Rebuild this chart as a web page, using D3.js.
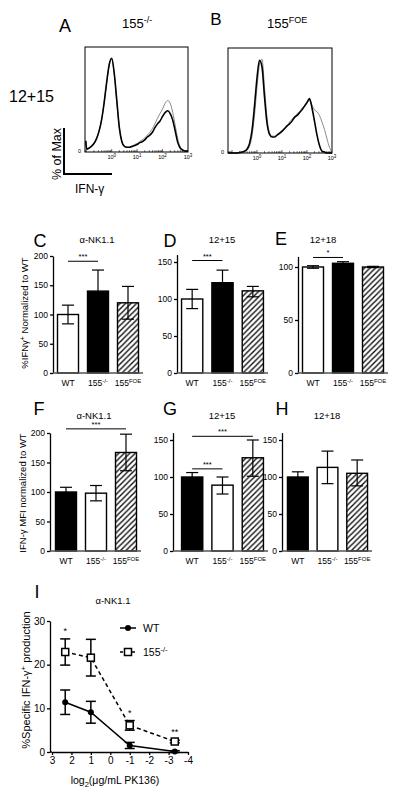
<!DOCTYPE html>
<html><head><meta charset="utf-8">
<script src="https://cdn.jsdelivr.net/npm/d3@7"></script>
<style>body{margin:0;background:#fff}svg{display:block;font-family:"Liberation Sans",Arial,sans-serif}</style>
</head><body><svg id="c" width="400" height="796"></svg>
<script>
// ---------------- DATA ----------------
const categories = ["WT", "155^-/-", "155^FOE"];
// C: %IFNg+ normalized, a-NK1.1
const cValues = [100, 140, 120], cLow = [84, 104, 92], cHigh = [116, 176, 148];
// D: 12+15
const dValues = [100, 122, 111], dLow = [87, 105, 103], dHigh = [113, 139, 117];
// E: 12+18
const eValues = [100, 103.5, 100], eLow = [98.8, 102, 99.4], eHigh = [101.2, 105, 100.6];
// F: MFI a-NK1.1
const fValues = [100, 98, 167], fLow = [92, 85, 136], fHigh = [108, 111, 198];
// G: MFI 12+15
const gValues = [100, 89, 126], gLow = [94, 77, 101], gHigh = [106, 100, 150];
// H: MFI 12+18
const hValues = [100, 113, 105], hLow = [94, 91, 88], hHigh = [107, 135, 123];
const ticks200 = [0, 50, 100, 150, 200];
const ticks150 = [0, 50, 100, 150];
const ticks100 = [0, 50, 100];

// I: dose response
const doseLog2 = [2.32, 1, -1, -3.32];
const wtMean = [11.4, 9.1, 1.5, 0.1], wtErr = [2.8, 2.5, 0.7, 0.2];
const koMean = [22.9, 21.6, 6.1, 2.4], koErr = [3.0, 4.2, 1.1, 0.3];
const doseStars = ["*", "", "*", "**"];
const iYTicks = [0, 10, 20, 30];
const iXTicks = [3, 2, 1, 0, -1, -2, -3, -4];

// A / B histograms: log10 IFN-g (x) vs % of max (y)
const histLogA = [-1.02,-0.98,-0.9,-0.8,-0.7,-0.6,-0.5,-0.4,-0.3,-0.2,-0.1,0.0,0.1,0.2,0.3,0.4,0.5,0.6,0.7,0.8,0.9,1.0,1.1,1.2,1.3,1.4,1.5,1.6,1.7,1.8,1.9,2.0,2.1,2.2,2.3,2.4,2.5,2.6,2.7,2.8,2.9,3.0];
const histA_black = [12,3,4,6,9,14,22,34,52,74,93,100,84,55,26,11,6,5,5,6,7,8,10,11,13,16,18,21,26,30,33,38,42,44,41,34,22,10,4,2,1,1];
const histA_gray  = [12,3,4,6,9,14,22,34,52,73,92,99,83,54,26,11,6,5,5,6,8,9,11,13,15,18,21,25,30,36,41,46,52,55,52,42,28,14,5,2,1,1];
const histLogB = [-1.15,-1.0,-0.9,-0.8,-0.7,-0.6,-0.5,-0.4,-0.3,-0.2,-0.1,0.0,0.1,0.2,0.3,0.4,0.5,0.6,0.7,0.8,0.9,1.0,1.1,1.2,1.3,1.4,1.5,1.6,1.7,1.8,1.9,2.0,2.1,2.2,2.3,2.4,2.5,2.6,2.7,2.8,2.9,3.0];
const histB_black = [0,0,0,0,0.5,1,2,4,10,24,50,80,99,92,60,32,20,17,17,19,21,23,26,29,31,34,38,40,43,46,50,54,58,48,34,19,8,2,1,0,0,0];
const histB_gray  = [0,0,0,0,0.5,1,1.5,3,7,18,40,70,94,100,70,38,22,18,18,19,22,24,26,28,33,36,38,42,44,48,50,53,56,51,46,44,40,33,25,15,6,1];
const histTicks = [0, 1, 2, 3];

// ---------------- DRAW ----------------
const svg = d3.select("#c");
const defs = svg.append("defs");
const pat = defs.append("pattern").attr("id", "hatch").attr("patternUnits", "userSpaceOnUse")
  .attr("width", 5.5).attr("height", 5.5);
pat.append("rect").attr("width", 5.5).attr("height", 5.5).attr("fill", "#fff");
pat.append("path").attr("d", "M0,5.5 L5.5,0 M-1,1 L1,-1 M4.5,6.5 L6.5,4.5").attr("stroke", "#111").attr("stroke-width", 1.4);

function supText(sel, label, size, supSize) {
  const parts = label.split("^");
  sel.append("tspan").text(parts[0]);
  if (parts[1]) sel.append("tspan").attr("font-size", supSize).attr("dy", -size * 0.38).text(parts[1]);
}
function txt(x, y, s, size, anchor = "start", weight = "normal") {
  return svg.append("text").attr("x", x).attr("y", y).attr("font-size", size)
    .attr("text-anchor", anchor).attr("font-weight", weight).text(s);
}

// ---- histograms
function histogram(p) {
  const x = d3.scaleLinear().domain(p.xDomain).range([p.x0, p.x1]);
  const y = d3.scaleLinear().domain([0, 112]).range([p.y1, p.y0]);
  const g = svg.append("g");
  const line = d3.line().x((d, i) => x(p.xs[i])).y(d => y(d)).curve(d3.curveMonotoneX);
  g.append("path").datum(p.gray).attr("d", line).attr("fill", "none").attr("stroke", "#8a8a8a").attr("stroke-width", 1);
  g.append("path").datum(p.black).attr("d", line).attr("fill", "none").attr("stroke", "#000").attr("stroke-width", 1.6);
  g.append("rect").attr("x", p.x0).attr("y", p.y0).attr("width", p.x1 - p.x0).attr("height", p.y1 - p.y0)
    .attr("fill", "none").attr("stroke", "#000").attr("stroke-width", 1);
  const minors = [];
  for (let dec = -2; dec <= 2; dec++) for (let m = 1; m <= 9; m++) {
    const v = dec + Math.log10(m);
    if (v >= p.xDomain[0] && v <= p.xDomain[1]) minors.push({ v, major: m === 1 });
  }
  g.selectAll("line.mt").data(minors).join("line")
    .attr("x1", d => x(d.v)).attr("x2", d => x(d.v))
    .attr("y1", p.y1).attr("y2", d => p.y1 - (d.major ? 3 : 1.8))
    .attr("stroke", "#000").attr("stroke-width", 0.6);
  histTicks.forEach(t => {
    const tt = g.append("text").attr("x", x(t)).attr("y", p.y1 + 7).attr("font-size", 5.5).attr("text-anchor", "middle");
    supText(tt, "10^" + t, 5.5, 4.5);
  });
  g.append("text").attr("x", p.x0 - 4).attr("y", p.y1 + 1).attr("font-size", 5.5).attr("text-anchor", "end").text("0");
}
histogram({ xs: histLogA, black: histA_black, gray: histA_gray, xDomain: [-1.05, 3.0], x0: 85, x1: 188, y0: 47, y1: 152 });
histogram({ xs: histLogB, black: histB_black, gray: histB_gray, xDomain: [-1.16, 3.0], x0: 228, x1: 332, y0: 48, y1: 153 });

txt(65, 32, "A", 18, "middle");
supText(txt(122, 28, "", 13), "155^-/-", 13, 9);
txt(216, 25, "B", 17, "middle");
supText(txt(267, 28, "", 13), "155^FOE", 13, 9);
txt(9, 102, "12+15", 16);
svg.append("text").attr("transform", "translate(61,154) rotate(-90)").attr("font-size", 12.5)
  .attr("text-anchor", "middle").text("% of Max");
svg.append("path").attr("d", "M64,128 L64,174 L112,174").attr("fill", "none").attr("stroke", "#000").attr("stroke-width", 2);
txt(75, 193, "IFN-\u03b3", 12);

// ---- bar panels
function barPanel(p) {
  const y = d3.scaleLinear().domain([0, p.max]).range([p.y0, p.y1]);
  const x = d3.scaleBand().domain(categories).range(p.xr).paddingInner(0.3).paddingOuter(0.15);
  const g = svg.append("g");
  const bw = x.bandwidth();
  g.selectAll("rect.bar").data(p.values).join("rect")
    .attr("x", (d, i) => x(categories[i])).attr("y", d => y(d))
    .attr("width", bw).attr("height", d => y(0) - y(d))
    .attr("fill", (d, i) => p.fills[i]).attr("stroke", "#000").attr("stroke-width", 1.4);
  p.values.forEach((d, i) => {
    const cx = x(categories[i]) + bw / 2;
    const lo = p.low[i], hi = p.high[i];
    g.append("line").attr("x1", cx).attr("x2", cx).attr("y1", y(lo)).attr("y2", y(hi)).attr("stroke", "#000").attr("stroke-width", 1.2);
    [lo, hi].forEach(v => g.append("line").attr("x1", cx - 6).attr("x2", cx + 6).attr("y1", y(v)).attr("y2", y(v)).attr("stroke", "#000").attr("stroke-width", 1.2));
  });
  const ax = g.append("g").attr("transform", `translate(${p.ax},0)`)
    .call(d3.axisLeft(y).tickValues(p.ticks).tickSize(3).tickSizeOuter(0).tickPadding(2));
  ax.selectAll("path,line").attr("stroke", "#000").attr("stroke-width", 1.3);
  ax.selectAll("text").attr("font-size", 8.5).attr("font-family", "Liberation Sans, Arial, sans-serif").attr("fill", "#000");
  g.append("line").attr("x1", p.ax).attr("x2", p.xr[1]).attr("y1", y(0)).attr("y2", y(0)).attr("stroke", "#555").attr("stroke-width", 1.6);
  categories.forEach(c => {
    const t = g.append("text").attr("x", x(c) + bw / 2).attr("y", y(0) + 13).attr("font-size", 8.5).attr("text-anchor", "middle");
    supText(t, c, 8.5, 6);
  });
  (p.sig || []).forEach(s => {
    const xa = x(categories[s[0]]) + bw / 2, xb = x(categories[s[1]]) + bw / 2;
    g.append("line").attr("x1", xa).attr("x2", xb).attr("y1", y(s[3])).attr("y2", y(s[3])).attr("stroke", "#000").attr("stroke-width", 1);
    g.append("text").attr("x", (xa + xb) / 2).attr("y", y(s[3]) - 2).attr("font-size", 7.5).attr("text-anchor", "middle").text(s[2]);
  });
}
const WH = "#fff", BK = "#000", HT = "url(#hatch)";
barPanel({ values: cValues, low: cLow, high: cHigh, fills: [WH, BK, HT], max: 200, ticks: ticks200, y0: 373, y1: 256, ax: 53, xr: [53, 143], sig: [[0, 1, "***", 191]] });
barPanel({ values: dValues, low: dLow, high: dHigh, fills: [WH, BK, HT], max: 160, ticks: ticks150, y0: 373, y1: 254.6, ax: 177, xr: [177, 268], sig: [[0, 1, "***", 152]] });
barPanel({ values: eValues, low: eLow, high: eHigh, fills: [WH, BK, HT], max: 110, ticks: ticks100, y0: 373, y1: 256.4, ax: 298, xr: [298, 388], sig: [[0, 1, "*", 109]] });
barPanel({ values: fValues, low: fLow, high: fHigh, fills: [BK, WH, HT], max: 200, ticks: ticks200, y0: 551, y1: 433, ax: 50, xr: [51, 141], sig: [[0, 2, "***", 207]] });
barPanel({ values: gValues, low: gLow, high: gHigh, fills: [BK, WH, HT], max: 160, ticks: ticks150, y0: 551, y1: 432.6, ax: 173, xr: [177, 268], sig: [[0, 2, "***", 155], [0, 1, "***", 111]] });
barPanel({ values: hValues, low: hLow, high: hHigh, fills: [BK, WH, HT], max: 160, ticks: ticks150, y0: 551, y1: 432.6, ax: 282, xr: [283, 372] });

txt(40, 247, "C", 18, "middle");
txt(97, 243, "\u03b1-NK1.1", 9.5, "middle");
txt(170, 247, "D", 18, "middle");
txt(222, 243, "12+15", 9.5, "middle");
txt(281, 245, "E", 18, "middle");
txt(323, 243, "12+18", 9.5, "middle");
txt(39, 415, "F", 18, "middle");
txt(94, 419, "\u03b1-NK1.1", 9.5, "middle");
txt(170, 415, "G", 18, "middle");
txt(222, 419, "12+15", 9.5, "middle");
txt(282, 415, "H", 18, "middle");
txt(327, 419, "12+18", 9.5, "middle");
const ylC = svg.append("text").attr("transform", "translate(28,313) rotate(-90)").attr("font-size", 9.5).attr("text-anchor", "middle");
ylC.append("tspan").text("%IFN\u03b3");
ylC.append("tspan").attr("font-size", 7).attr("dy", -3.5).text("+");
ylC.append("tspan").attr("dy", 3.5).text(" Normalized to WT");
svg.append("text").attr("transform", "translate(26,493) rotate(-90)").attr("font-size", 9.5).attr("text-anchor", "middle").text("IFN-\u03b3 MFI normalized to WT");

// ---- panel I
(function () {
  const x = d3.scaleLinear().domain([3, -4]).range([52, 188]);
  const y = d3.scaleLinear().domain([0, 30]).range([752, 621]);
  const g = svg.append("g");
  const ay = g.append("g").attr("transform", "translate(50,0)")
    .call(d3.axisLeft(y).tickValues(iYTicks).tickSize(3).tickSizeOuter(0).tickPadding(2).tickFormat(d => String(d)));
  const axx = g.append("g").attr("transform", "translate(0,752)")
    .call(d3.axisBottom(x).tickValues(iXTicks).tickSize(3).tickSizeOuter(0).tickPadding(2).tickFormat(d => String(d)));
  g.append("line").attr("x1", 50).attr("x2", 52).attr("y1", 752).attr("y2", 752).attr("stroke", "#000").attr("stroke-width", 1.3);
  [ay, axx].forEach(a => {
    a.selectAll("path,line").attr("stroke", "#000").attr("stroke-width", 1.3);
    a.selectAll("text").attr("font-size", 10).attr("font-family", "Liberation Sans, Arial, sans-serif").attr("fill", "#000");
  });
  const line = d3.line().x((d, i) => x(doseLog2[i])).y(d => y(d));
  g.append("path").datum(koMean).attr("d", line).attr("fill", "none").attr("stroke", "#000").attr("stroke-width", 1.5).attr("stroke-dasharray", "4,3");
  g.append("path").datum(wtMean).attr("d", line).attr("fill", "none").attr("stroke", "#000").attr("stroke-width", 1.5);
  function errs(means, errsArr) {
    means.forEach((m, i) => {
      const cx = x(doseLog2[i]);
      g.append("line").attr("x1", cx).attr("x2", cx).attr("y1", y(m - errsArr[i])).attr("y2", y(m + errsArr[i])).attr("stroke", "#000").attr("stroke-width", 1.5);
      [m - errsArr[i], m + errsArr[i]].forEach(v => g.append("line").attr("x1", cx - 5).attr("x2", cx + 5).attr("y1", y(v)).attr("y2", y(v)).attr("stroke", "#000").attr("stroke-width", 1.5));
    });
  }
  errs(koMean, koErr);
  errs(wtMean, wtErr);
  g.selectAll("rect.ko").data(koMean).join("rect")
    .attr("x", (d, i) => x(doseLog2[i]) - 3.5).attr("y", d => y(d) - 3.5).attr("width", 7).attr("height", 7)
    .attr("fill", "#fff").attr("stroke", "#000").attr("stroke-width", 1.5);
  g.selectAll("circle.wt").data(wtMean).join("circle")
    .attr("cx", (d, i) => x(doseLog2[i])).attr("cy", d => y(d)).attr("r", 3).attr("fill", "#000");
  doseStars.forEach((s, i) => {
    if (!s) return;
    g.append("text").attr("x", x(doseLog2[i])).attr("y", y(koMean[i] + koErr[i]) - 5).attr("font-size", 9).attr("text-anchor", "middle").text(s);
  });
  g.append("line").attr("x1", 120).attr("x2", 136).attr("y1", 628).attr("y2", 628).attr("stroke", "#000").attr("stroke-width", 1.5);
  g.append("circle").attr("cx", 128).attr("cy", 628).attr("r", 3).attr("fill", "#000");
  g.append("line").attr("x1", 120).attr("x2", 136).attr("y1", 652).attr("y2", 652).attr("stroke", "#000").attr("stroke-width", 1.5).attr("stroke-dasharray", "3,3");
  g.append("rect").attr("x", 124.5).attr("y", 648.5).attr("width", 7).attr("height", 7).attr("fill", "#fff").attr("stroke", "#000").attr("stroke-width", 1.5);
  txt(143, 632, "WT", 10.5);
  supText(txt(143, 656, "", 10.5), "155^-/-", 10.5, 7.5);
})();
txt(37, 598, "I", 18, "middle");
txt(113, 604, "\u03b1-NK1.1", 9.5, "middle");
const ylI = svg.append("text").attr("transform", "translate(30,680) rotate(-90)").attr("font-size", 11).attr("text-anchor", "middle");
ylI.append("tspan").text("%Specific IFN-\u03b3");
ylI.append("tspan").attr("font-size", 8).attr("dy", -4).text("+");
ylI.append("tspan").attr("dy", 4).text(" production");
const xlI = svg.append("text").attr("x", 115).attr("y", 784).attr("font-size", 10.5).attr("text-anchor", "middle");
xlI.append("tspan").text("log");
xlI.append("tspan").attr("font-size", 7.5).attr("dy", 3).text("2");
xlI.append("tspan").attr("dy", -3).text("(\u03bcg/mL PK136)");
</script></body></html>
